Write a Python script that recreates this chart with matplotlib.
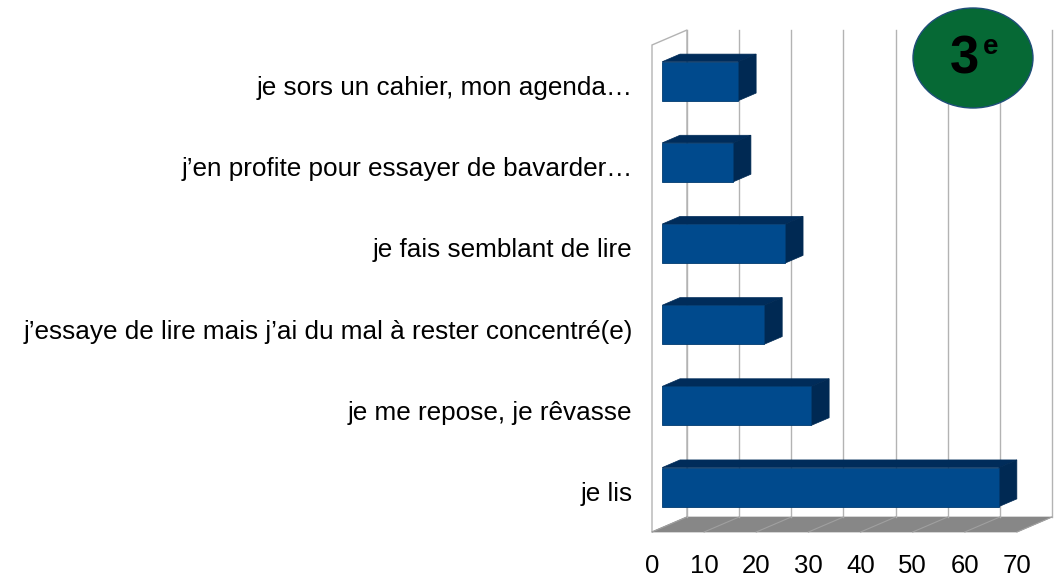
import matplotlib
matplotlib.use("Agg")
import matplotlib.pyplot as plt
from matplotlib.patches import Ellipse, Polygon

# données (de bas en haut)
categories = [
    "je lis",
    "je me repose, je rêvasse",
    "j\u2019essaye de lire mais j\u2019ai du mal à rester concentré(e)",
    "je fais semblant de lire",
    "j\u2019en profite pour essayer de bavarder\u2026",
    "je sors un cahier, mon agenda\u2026",
]
values = [64.6, 28.6, 19.6, 23.6, 13.6, 14.6]
xticks = [0, 10, 20, 30, 40, 50, 60, 70]

plt.rcParams["font.family"] = ["Liberation Sans", "DejaVu Sans"]

W, H = 1058, 579
fig = plt.figure(figsize=(W / 100, H / 100), dpi=100)
# plan avant de la boîte 3D, en pixels
x0, x1, ytop, ybot = 652, 1017, 45, 532
ax = fig.add_axes([x0 / W, 1 - ybot / H, (x1 - x0) / W, (ybot - ytop) / H])
ax.set_xlim(0, 70)
ax.set_ylim(-0.5, 5.5)

# vecteur de profondeur (35 px à droite, 15 px vers le haut)
px_x = 70 / (x1 - x0)
px_y = 6 / (ybot - ytop)
DX, DY = 35 * px_x, 15 * px_y


def p(v, y, d):
    return (v + d * DX, y + d * DY)


grid_c = "#b3b3b3"
# mur de gauche
ax.add_patch(Polygon([p(0, -0.5, 0), p(0, 5.5, 0), p(0, 5.5, 1), p(0, -0.5, 1)],
                     closed=True, facecolor="white", edgecolor=grid_c, lw=1,
                     clip_on=False, zorder=1))
# sol
ax.add_patch(Polygon([p(0, -0.5, 0), p(70, -0.5, 0), p(70, -0.5, 1), p(0, -0.5, 1)],
                     closed=True, facecolor="#878787", edgecolor="#878787", lw=0.5,
                     clip_on=False, zorder=1))
for t in xticks:
    a, b = p(t, -0.5, 0), p(t, -0.5, 1)
    ax.plot([a[0], b[0]], [a[1], b[1]], color="#a0a0a0", lw=0.8,
            clip_on=False, zorder=2)
    # lignes du mur du fond
    c, d = p(t, -0.5, 1), p(t, 5.5, 1)
    ax.plot([c[0], d[0]], [c[1], d[1]], color=grid_c, lw=1,
            clip_on=False, zorder=1)

# barres 3D
d0, d1 = 0.29, 0.8
h = 0.48
front_c, top_c, side_c = "#004a8d", "#002c5a", "#002953"
ys = range(len(values))
ax.barh([y + d0 * DY for y in ys], values, left=d0 * DX, height=h,
        color=front_c, edgecolor="#003a70", lw=0.6, zorder=5)
for y, v in zip(ys, values):
    top = [p(0, y + h / 2, d0), p(v, y + h / 2, d0), p(v, y + h / 2, d1), p(0, y + h / 2, d1)]
    side = [p(v, y - h / 2, d0), p(v, y + h / 2, d0), p(v, y + h / 2, d1), p(v, y - h / 2, d1)]
    ax.add_patch(Polygon(top, closed=True, facecolor=top_c, edgecolor=top_c,
                         lw=0.5, clip_on=False, zorder=4))
    ax.add_patch(Polygon(side, closed=True, facecolor=side_c, edgecolor=side_c,
                         lw=0.5, clip_on=False, zorder=4))

for s in ax.spines.values():
    s.set_visible(False)
ax.set_facecolor("none")
ax.set_yticks(list(ys))
ax.set_yticklabels(categories, fontsize=18.8, color="black")
ax.set_xticks(xticks)
ax.set_xticklabels([str(t) for t in xticks], fontsize=18.5, color="black")
ax.tick_params(axis="y", length=0, pad=14)
ax.tick_params(axis="x", length=0, pad=16)

# pastille "3e"
fig.patches.append(Ellipse((973 / W, 1 - 58 / H), 120 / W, 100 / H,
                           transform=fig.transFigure, facecolor="#066935",
                           edgecolor="#1f4e79", lw=1, zorder=10))
fig.text(964 / W, 1 - 60 / H, "3", fontsize=38, fontweight="bold",
         ha="center", va="center", color="black", zorder=11)
fig.text(991 / W, 1 - 47 / H, "e", fontsize=20, fontweight="bold",
         ha="center", va="center", color="black", zorder=11)

fig.savefig("out.png", dpi=100)
